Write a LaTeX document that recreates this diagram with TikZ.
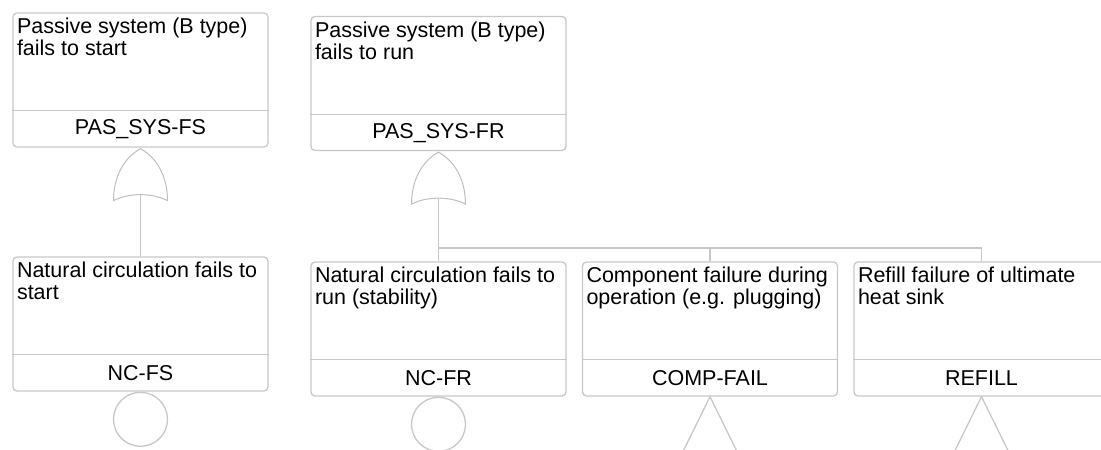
\documentclass[tikz,border=0pt]{standalone}
\usepackage{fontspec}
\setmainfont{Liberation Sans}
\usepackage{tikz}
\usetikzlibrary{calc}

\begin{document}
\begin{tikzpicture}[x=1pt, y=-1pt, line width=1.3pt,
    event/.style={draw=black!22, rounded corners=4pt, minimum width=255pt, minimum height=134pt, inner sep=0pt},
    desc/.style={anchor=north west, align=left, inner xsep=4pt, inner ysep=5pt, font=\fontsize{21.5}{22}\selectfont, text=black},
    ident/.style={font=\fontsize{21.5}{22}\selectfont, text=black},
    wire/.style={draw=black!22},
    gate/.style={draw=black!25, line width=1pt},
    orgate/.pic={
        \draw[gate] (0,0) .. controls (18,10) and (27,30) .. (27,52)
            .. controls (12,44) and (-12,44) .. (-27,52)
            .. controls (-27,30) and (-18,10) .. (0,0) -- cycle;
        \coordinate (-in) at (0,46);
    }]
    \useasboundingbox (0,0) rectangle (1101,450);

    % top events
    \node[event] (fs) at (140.5,80) {};
    \node[event] (fr) at (438.5,83.5) {};
    % basic events
    \node[event] (ncfs) at (140.5,324) {};
    \node[event] (ncfr) at (438.5,329) {};
    \node[event] (comp) at (710,329) {};
    \node[event] (refill) at (981.5,329) {};

    \foreach \n in {fs,fr,ncfs,ncfr,comp,refill}
        \draw[wire] ([yshift=37pt]\n.south west) -- ([yshift=37pt]\n.south east);

    \node[desc] (fs-t) at (fs.north west) {Passive system (B type)\\fails to start};
    \node[desc] (fr-t) at (fr.north west) {Passive system (B type)\\fails to run};
    \node[desc] (ncfs-t) at (ncfs.north west) {Natural circulation fails to\\start};
    \node[desc] (ncfr-t) at (ncfr.north west) {Natural circulation fails to\\run (stability)};
    \node[desc] (comp-t) at (comp.north west) {Component failure during\\operation (e.g. plugging)};
    \node[desc] (refill-t) at (refill.north west) {Refill failure of ultimate\\heat sink};

    \node[ident] (fs-id) at ([yshift=18.5pt]fs.south) {PAS\_SYS-FS};
    \node[ident] (fr-id) at ([yshift=18.5pt]fr.south) {PAS\_SYS-FR};
    \node[ident] (ncfs-id) at ([yshift=18.5pt]ncfs.south) {NC-FS};
    \node[ident] (ncfr-id) at ([yshift=18.5pt]ncfr.south) {NC-FR};
    \node[ident] (comp-id) at ([yshift=18.5pt]comp.south) {COMP-FAIL};
    \node[ident] (refill-id) at ([yshift=18.5pt]refill.south) {REFILL};

    % gates
    \pic (g1) at ([yshift=-1pt]fs.south) {orgate};
    \pic (g2) at ([yshift=-1pt]fr.south) {orgate};
    \coordinate (bus) at (0,248);

    \draw[wire] (g1-in) -- (ncfs.north);
    \draw[wire] (g2-in) -- (ncfr.north);
    \draw[wire] (ncfr.north |- bus) -| (comp.north);
    \draw[wire] (comp.north |- bus) -| (refill.north);

    % basic event / undeveloped symbols
    \node[draw=black!22, circle, minimum size=54pt, inner sep=0pt, anchor=north] (ncfs-c) at (ncfs.south) {};
    \node[draw=black!22, circle, minimum size=54pt, inner sep=0pt, anchor=north] (ncfr-c) at (ncfr.south) {};
    \draw[wire] (comp.south) -- ++(30,61) -- ++(-60,0) -- cycle;
    \draw[wire] (refill.south) -- ++(30,61) -- ++(-60,0) -- cycle;
\end{tikzpicture}
\end{document}
